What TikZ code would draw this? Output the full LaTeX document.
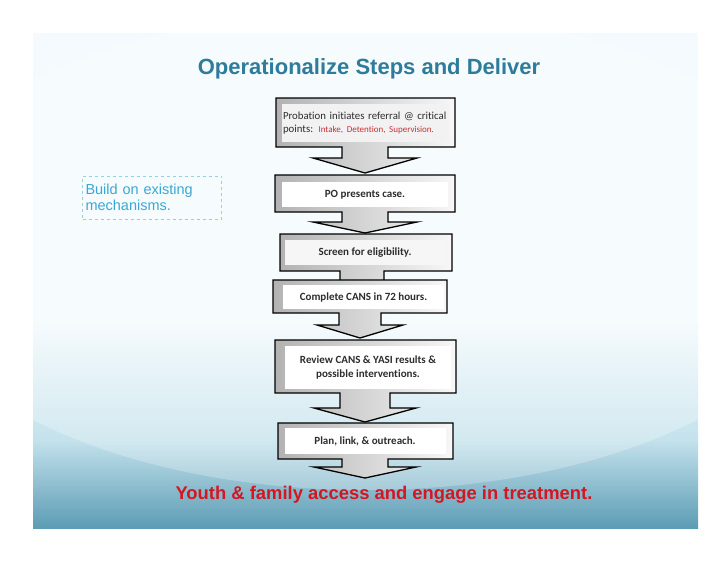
\documentclass[tikz,border=0pt]{standalone}
\usepackage{fontspec}
\setmainfont{Liberation Sans}
\newfontfamily\calfont[Ligatures=NoCommon]{Carlito}
\usetikzlibrary{calc}

\definecolor{titleblue}{RGB}{46,124,156}
\definecolor{noteblue}{RGB}{58,168,214}
\definecolor{noteline}{RGB}{160,205,222}
\definecolor{youthred}{RGB}{212,22,32}
\definecolor{bgtop}{RGB}{244,250,253}
\definecolor{bgmid}{RGB}{196,226,236}
\definecolor{bgbot}{RGB}{92,156,180}
\definecolor{txtgray}{RGB}{45,45,45}
\definecolor{pointred}{RGB}{205,45,50}

\tikzset{
  frame/.style={draw=black, line width=1.3pt, line join=miter, left color=gray!60, right color=gray!6},
  panel/.style={fill=white, inner sep=2pt, text=txtgray,
    font=\calfont\bfseries\fontsize{11}{14}\selectfont},
}

% block with a down arrow: left, right, top, bottom, shaft end, tip, centre, half shaft, half head
\newcommand\stepframe[9]{%
  \draw[frame] (#1,#3) -- (#2,#3) -- (#2,#4) -- (#7+#8,#4) -- (#7+#8,#5) -- (#7+#9,#5)
    -- (#7,#6) -- (#7-#9,#5) -- (#7-#8,#5) -- (#7-#8,#4) -- (#1,#4) -- cycle;}

\begin{document}
\begin{tikzpicture}[x=1pt, y=-1pt]

        \useasboundingbox (0,0) rectangle (728,563);

        % slide background
        \fill[bgtop] (33,33) rectangle (698,320);
        \shade[top color=bgtop, bottom color=bgmid] (33,319.5) rectangle (698,440);
        \shade[top color=bgmid, bottom color=bgbot] (33,439.5) rectangle (698,528);
        \begin{scope}
        \clip (33,33) rectangle (698,528);
        \fill[white, opacity=.25] (365,250) ellipse (470pt and 240pt);
        \end{scope}

        \node (title) at (369,69) [text=titleblue, font=\bfseries\fontsize{22}{26}\selectfont] {Operationalize Steps and Deliver};

        \node (note) at (152,197.5) [draw=noteline, dashed, minimum width=139pt, minimum height=43pt,
          text width=133pt, align=left, text=noteblue, font=\fontsize{14.5}{16.5}\selectfont, inner sep=3pt]
          {Build on existing\\mechanisms.};

        \stepframe{276}{455}{98}{147}{158}{173}{365}{23}{52}
        \stepframe{275}{455}{175}{212}{222}{233}{365}{23}{52}
        \stepframe{280}{452}{234}{271}{286}{296}{362}{22}{46}
        \stepframe{273}{447}{280}{313}{325}{338}{360}{21}{43}
        \stepframe{275}{456}{340}{393}{408}{422}{365}{25}{51}
        \stepframe{278}{453}{423}{459}{467}{478}{365}{23}{51}

        \node (s1) at (365.5,123) [panel, fill=white!90!gray, minimum width=167pt, minimum height=38pt,
          text width=165pt, align=left, inner sep=1pt, font=\calfont\fontsize{10.8}{13.5}\selectfont]
          {Probation initiates referral @ critical\\points: {\color{pointred}\fontsize{9}{10}\selectfont Intake, Detention, Supervision.}};
        \node (s2) at (365,194.5) [panel, minimum width=166pt, minimum height=25pt] {PO presents case.};
        \node (s3) at (365,252.5) [panel, fill=white!93!gray, minimum width=160pt, minimum height=25pt] {Screen for eligibility.};
        \node (s4) at (363.5,297) [panel, minimum width=161pt, minimum height=24pt] {Complete CANS in 72 hours.};
        \node (s5) at (368,367.5) [panel, minimum width=166pt, minimum height=43pt, align=center]
          {Review CANS \& YASI results \&\\possible interventions.};
        \node (s6) at (365,441) [panel, minimum width=161pt, minimum height=26pt] {Plan, link, \& outreach.};

        \node (youth) at (384,495) [text=youthred, font=\bfseries\fontsize{18.4}{22}\selectfont]
          {Youth \& family access and engage in treatment.};

\end{tikzpicture}
\end{document}
